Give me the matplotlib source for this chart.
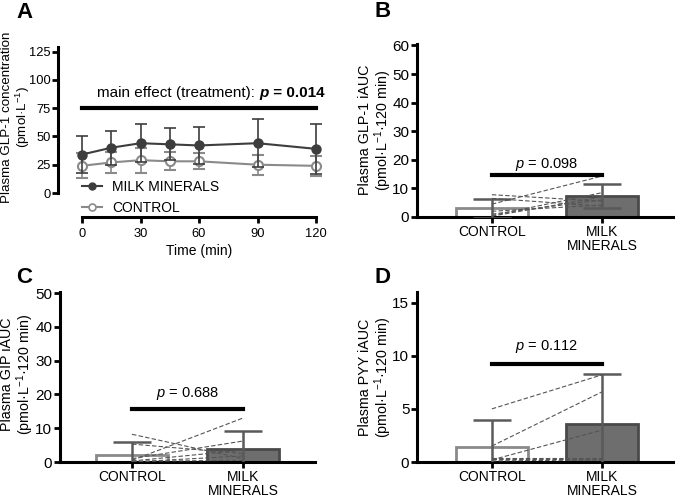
import matplotlib
matplotlib.use("Agg")
import matplotlib.pyplot as plt
from matplotlib.lines import Line2D
import numpy as np

plt.rcParams['font.family'] = ['Liberation Sans', 'DejaVu Sans']
plt.rcParams['mathtext.fontset'] = 'custom'
plt.rcParams['mathtext.rm'] = 'Liberation Sans'
plt.rcParams['mathtext.it'] = 'Liberation Sans:italic'
plt.rcParams['mathtext.bf'] = 'Liberation Sans:bold'
plt.rcParams['font.size'] = 10

# Panel A - time course
time = [0, 15, 30, 45, 60, 90, 120]
milk_mean = [34, 40, 44, 43, 42, 44, 39]
milk_sd = [16, 15, 17, 14, 16, 21, 22]
ctrl_mean = [24, 27, 29, 28, 28, 25, 24]
ctrl_sd = [11, 9, 11, 8, 7, 9, 9]

groups = ["CONTROL", "MILK\nMINERALS"]

# Panel B - GLP-1 iAUC
glp_bar = [3.0, 7.3]
glp_err = [3.3, 4.2]
glp_ctrl_ind = [4.5, 7.8, 6.5, 0.5, 1.0, 2.0, 0.3]
glp_milk_ind = [14.3, 5.5, 3.8, 8.5, 6.0, 4.2, 7.0]

# Panel C - GIP iAUC
gip_bar = [2.0, 3.8]
gip_err = [4.0, 5.3]
gip_ctrl_ind = [8.2, 5.3, 0.5, 1.0, 0.3, 0.0, 0.2]
gip_milk_ind = [1.0, 2.5, 13.0, 6.2, 3.5, 1.8, 0.5]

# Panel D - PYY iAUC
pyy_bar = [1.4, 3.6]
pyy_err = [2.6, 4.7]
pyy_ctrl_ind = [5.0, 1.5, 0.2, 0.4, 0.3, 0.1]
pyy_milk_ind = [8.2, 6.6, 3.0, 0.4, 0.3, 0.2]

dark = "#3d3d3d"
mid = "#6e6e6e"
light = "#8a8a8a"

W, H = 677, 498
fig = plt.figure(figsize=(W / 100, H / 100), dpi=100)


def px_axes(x0, y_top, x1, y_bot):
    return fig.add_axes([x0 / W, 1 - y_bot / H, (x1 - x0) / W, (y_bot - y_top) / H])


def px_ylabel(text, xc, yc, size):
    fig.text(xc / W, 1 - yc / H, text, rotation=90, ha='center', va='center',
             multialignment='center', fontsize=size, linespacing=1.0)


def style(ax, size):
    for s in ["top", "right"]:
        ax.spines[s].set_visible(False)
    for s in ["left", "bottom"]:
        ax.spines[s].set_linewidth(2.2)
    ax.tick_params(width=2, length=4, labelsize=size, pad=1.5)


# ---- Panel A ----
axA = px_axes(82, 47, 316, 193)
style(axA, 9.3)
axA.spines['left'].set_position(('outward', 17))
axA.spines['bottom'].set_position(('outward', 17))
axA.set_xlim(0, 120)
axA.set_ylim(0, 129)
axA.spines['left'].set_bounds(0, 129)
axA.set_yticks([0, 25, 50, 75, 100, 125])
axA.set_xticks([0, 30, 60, 90, 120])
axA.tick_params(axis='x', pad=4)
axA.errorbar(time, ctrl_mean, yerr=ctrl_sd, color=light, lw=1.5, capsize=4, capthick=1.2,
             elinewidth=1.2, marker='o', ms=6.5, mfc='white', mec=light, mew=1.5,
             clip_on=False, zorder=3)
axA.errorbar(time, milk_mean, yerr=milk_sd, color=dark, lw=1.5, capsize=4, capthick=1.2,
             elinewidth=1.2, marker='o', ms=6.5, mfc=dark, mec=dark,
             clip_on=False, zorder=4)
axA.plot([0, 120], [75, 75], color='black', lw=3, clip_on=False)
t1 = axA.text(7.7, 85, "main effect (treatment): ", ha='left', va='baseline', fontsize=11)
t2 = axA.annotate("p", xycoords=t1, xy=(1, 0), va='bottom', fontsize=11,
                  fontweight='bold', fontstyle='italic')
axA.annotate(" = 0.014", xycoords=t2, xy=(1, 0), va='bottom', fontsize=11, fontweight='bold')
handles = [Line2D([], [], color=dark, lw=1.5, marker='o', ms=5, mfc=dark, mec=dark),
           Line2D([], [], color=light, lw=1.5, marker='o', ms=5, mfc='white', mec=light, mew=1.2)]
axA.legend(handles, ["MILK MINERALS", "CONTROL"], loc='upper left',
           bbox_to_anchor=(82 / W, 1 - 180 / H), bbox_transform=fig.transFigure,
           frameon=False, fontsize=10, handlelength=1.44, handletextpad=0.75,
           labelspacing=0.5, borderpad=0, borderaxespad=0)
px_ylabel("Plasma GLP-1 concentration\n(pmol·L$^{-1}$)", 16.5, 117, 9.6)
axA.set_xlabel("Time (min)", fontsize=10, labelpad=3)


def bar_panel(ax, bars, errs, ctrl_ind, milk_ind, ymax, yticks, pline, ptext, ptext_y, xmin, xmax):
    style(ax, 11)
    x = np.arange(len(groups))
    ax.bar(x, bars, width=0.655, color=['white', mid], edgecolor=[light, '#4a4a4a'],
           linewidth=2, zorder=2)
    ax.errorbar(x, bars, yerr=errs, fmt='none', ecolor='#5a5a5a', elinewidth=1.8,
                capsize=13.5, capthick=1.8, zorder=3)
    for c, m in zip(ctrl_ind, milk_ind):
        ax.plot([0, 1], [c, m], color='#555555', lw=0.8, ls=(0, (4, 2)), zorder=4)
    ax.plot([0, 1], [pline, pline], color='black', lw=3, zorder=5)
    ax.text(0.5, ptext_y, "$\\it{p}$ = " + ptext, ha='center', va='baseline', fontsize=10.5)
    ax.set_xlim(xmin, xmax)
    ax.set_ylim(0, ymax)
    ax.set_yticks(yticks)
    ax.set_xticks(x)
    ax.set_xticklabels(groups, fontsize=10, linespacing=1.0)
    ax.tick_params(axis='x', pad=2)


# ---- Panel B ----
axB = px_axes(417, 44, 673, 217)
bar_panel(axB, glp_bar, glp_err, glp_ctrl_ind, glp_milk_ind, 60.5, range(0, 61, 10),
          14.8, "0.098", 17.0, -0.68, 1.645)
px_ylabel("Plasma GLP-1 iAUC\n(pmol·L$^{-1}$·120 min)", 376, 130, 10.3)

# ---- Panel C ----
axC = px_axes(60, 292, 315, 462)
bar_panel(axC, gip_bar, gip_err, gip_ctrl_ind, gip_milk_ind, 50.3, range(0, 51, 10),
          15.7, "0.688", 19.1, -0.65, 1.65)
px_ylabel("Plasma GIP iAUC\n(pmol·L$^{-1}$·120 min)", 18, 374, 10.3)

# ---- Panel D ----
axD = px_axes(417, 292, 673, 462)
bar_panel(axD, pyy_bar, pyy_err, pyy_ctrl_ind, pyy_milk_ind, 16, [0, 5, 10, 15],
          9.2, "0.112", 10.5, -0.68, 1.645)
px_ylabel("Plasma PYY iAUC\n(pmol·L$^{-1}$·120 min)", 376, 377, 10.3)

for lab, x, y in [("A", 16, 18), ("B", 374, 17), ("C", 16, 283), ("D", 374, 283)]:
    fig.text(x / W, 1 - y / H, lab, fontsize=16, fontweight='bold', va='baseline')

fig.savefig("out.png", dpi=100)
